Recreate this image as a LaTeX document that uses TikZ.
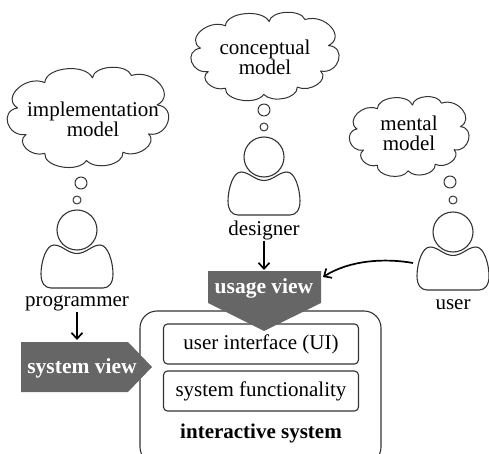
\documentclass[tikz,border=0pt]{standalone}
\usepackage{fontspec}
\setmainfont{Liberation Serif}
\usetikzlibrary{arrows.meta}
\definecolor{viewgray}{HTML}{666666}
\definecolor{linegray}{HTML}{333333}
\newcommand{\cloudoutline}{(-.84,-.17) to[bend left=85,looseness=1.25] (-.52,-.60) to[bend left=80,looseness=1.2] (.04,-.68)
  to[bend left=80,looseness=1.2] (.50,-.72) to[bend left=85,looseness=1.25] (.80,-.22) to[bend left=95,looseness=1.25] (.70,.27)
  to[bend left=80,looseness=1.2] (.40,.58) to[bend left=75,looseness=1.2] (-.03,.72) to[bend left=80,looseness=1.2] (-.52,.60)
  to[bend left=80,looseness=1.2] (-.74,.28) to[bend left=90,looseness=1.25] cycle}
\tikzset{
  label/.style={font=\fontsize{21}{21}\selectfont,align=center,inner sep=1pt,text=black},
  viewlabel/.style={font=\fontsize{21.5}{21.5}\selectfont\bfseries,inner sep=0pt,text=white},
  bubble/.style={circle,draw=linegray,line width=1pt,inner sep=0pt},
  head/.style={circle,draw=linegray,line width=1.1pt,minimum size=40pt,inner sep=0pt},
  innerbox/.style={draw=linegray,line width=1.1pt,rounded corners=4pt,minimum width=195pt,minimum height=40pt,inner sep=0pt,font=\fontsize{21}{21}\selectfont},
  arrow/.style={-{Straight Barb[length=6pt,width=11pt]},line width=1.7pt,black},
}
\begin{document}
\begin{tikzpicture}[x=1pt,y=-1pt,line join=round]
  \useasboundingbox (0,0) rectangle (489,454);
  \clip (0,0) rectangle (489,454);
  % thought clouds
  \draw[linegray,line width=1pt,shift={(89,118)},xscale=85,yscale=59] \cloudoutline;
  \draw[linegray,line width=1pt,shift={(266,57)},xscale=78,yscale=52] \cloudoutline;
  \draw[linegray,line width=1pt,shift={(410,137)},xscale=63,yscale=47] \cloudoutline;
  \node at (93,119) [label] (implementation) {implementation\\[-1pt]model};
  \node at (265,57) [label] (conceptual) {conceptual\\[-1pt]model};
  \node at (409,133) [label] (mental) {mental\\[-1pt]model};
  % bubbles
  \node at (81,183) [bubble,minimum size=12pt] (b1) {};
  \node at (77,200) [bubble,minimum size=8pt] (b2) {};
  \node at (264,110) [bubble,minimum size=12pt] (b3) {};
  \node at (264,127) [bubble,minimum size=8pt] (b4) {};
  \node at (450,182) [bubble,minimum size=12pt] (b5) {};
  \node at (453,200) [bubble,minimum size=8pt] (b6) {};
  % persons
  \node at (77,230) [head] (h1) {};
  \node at (264,157) [head] (h2) {};
  \node at (453,232) [head] (h3) {};
  \foreach \px/\py in {77/230,264/157,453/232}
    \draw[linegray,line width=1.1pt,shift={(\px,\py)}] (0,23.5) .. controls (-9,23.5) and (-15,15) .. (-23,15)
      .. controls (-31,15) and (-36,32) .. (-36,44) .. controls (-36,53) and (-32,58) .. (-26,58)
      -- (26,58) .. controls (32,58) and (36,53) .. (36,44)
      .. controls (36,32) and (31,15) .. (23,15) .. controls (15,15) and (9,23.5) .. (0,23.5) -- cycle;
  \node at (77,303) [label] (programmer) {programmer};
  \node at (264,230) [label] (designer) {designer};
  \node at (453,305) [label] (user) {user};
  % interactive system
  \draw[linegray,line width=1.1pt,rounded corners=17pt] (140,311) rectangle (381,464);
  \node at (261,344) [innerbox] (ui) {user interface (UI)};
  \node at (261,391) [innerbox] (functionality) {system functionality};
  \node at (261,433) [label,font=\fontsize{21}{21}\selectfont\bfseries] (interactive) {interactive system};
  % views
  \fill[viewgray] (208,271) -- (321,271) -- (321,303) -- (264,331) -- (208,303) -- cycle;
  \fill[viewgray] (21,342) -- (128,342) -- (152,367) -- (128,392) -- (21,392) -- cycle;
  \node at (264,288) [viewlabel] (usage) {usage view};
  \node at (82,368) [viewlabel] (system) {system view};
  \coordinate (usagetop) at (264,270);
  \coordinate (systemtop) at (77,340);
  \coordinate (usageside) at (323,277);
  \coordinate (userside) at (413,263);
  % arrows
  \draw[arrow] (designer.south) -- (usagetop);
  \draw[arrow] (programmer.south) -- (systemtop);
  \draw[arrow] (userside) .. controls (385,258) and (350,260) .. (usageside);
\end{tikzpicture}
\end{document}
